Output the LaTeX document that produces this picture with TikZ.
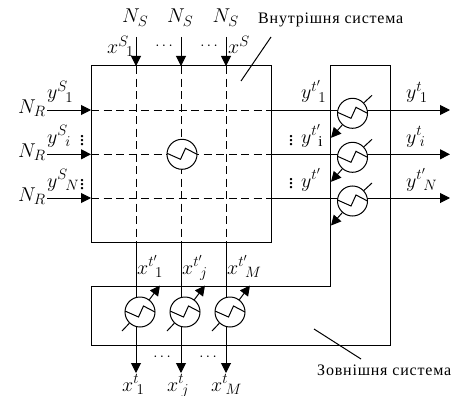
\RequirePackage{fix-cm}
\documentclass[tikz,border=0pt]{standalone}
\usepackage{fontspec}
\setmainfont{Liberation Serif}
\usetikzlibrary{arrows.meta,calc}
\DeclareMathSizes{20}{20}{15}{11}
\tikzset{
  ln/.style={line width=1pt,black},
  dsh/.style={ln,dash pattern=on 8pt off 4.5pt},
  arr/.style={ln,-{Triangle[length=10pt,width=10pt]}},
  hx/.style={circle,draw,line width=1pt,minimum size=30pt,inner sep=0pt,fill=white,
    path picture={\draw[line width=1pt] ($(path picture bounding box.center)+(-15pt,1pt)$)--++(13.5pt,-6pt)--++(5pt,11pt)--++(11.5pt,-6pt);}},
  lb/.style={inner sep=0pt,anchor=base west,font=\fontsize{20}{22}\selectfont},
  big/.style={inner sep=0pt,anchor=base west,font=\fontsize{20}{22}\selectfont},
  cy/.style={inner sep=0pt,anchor=base west,font=\fontsize{16}{19}\selectfont\addfontfeatures{LetterSpace=5}},
  dt/.style={inner sep=0pt,font=\fontsize{15}{15}\selectfont},
  dv/.style={inner sep=0pt,font=\fontsize{20}{20}\selectfont}
}
\newcommand{\sv}[3]{$#1^{#2}{}_{\!#3}$}
\begin{document}
\begin{tikzpicture}[x=1pt,y=-1pt]
\useasboundingbox (0,0) rectangle (463,396);
% boxes
\coordinate (ia) at (91,66); \coordinate (ib) at (271,66);
\coordinate (ic) at (271,242); \coordinate (id) at (91,242);
\draw[ln] (ia)--(ib)--(ic)--(id)--cycle;
\coordinate (oa) at (91,286); \coordinate (ob) at (330.5,286); \coordinate (oc) at (330.5,66);
\coordinate (od) at (390.5,66); \coordinate (oe) at (390.5,345); \coordinate (of) at (91,345);
\draw[ln] (oa)--(ob)--(oc)--(od)--(oe)--(of)--cycle;
% coordinates
\foreach \n/\x in {1/136,2/181,3/226}{
  \coordinate (t\n) at (\x,37); \coordinate (u\n) at (\x,66); \coordinate (v\n) at (\x,242); \coordinate (w\n) at (\x,373);
  \draw[arr] (t\n)--(u\n);
  \draw[dsh] (u\n)--(v\n);
  \draw[arr] (v\n)--(w\n);
}
\foreach \n/\y in {1/110,2/154.3,3/198}{
  \coordinate (l\n) at (47,\y); \coordinate (m\n) at (91,\y); \coordinate (r\n) at (271,\y); \coordinate (e\n) at (450,\y);
  \draw[arr] (l\n)--(m\n);
  \draw[dsh] (m\n)--(r\n);
  \draw[arr] (r\n)--(e\n);
}
% exchangers
\node[hx] (c) at (182,154.3) {};
\foreach \n/\y in {1/113.3,2/157.3,3/201}{
  \node[hx] (R\n) at (352.5,\y) {};
  \coordinate (Rt\n) at (372,{\y-18});
  \coordinate (Ra\n) at (331,{\y+24.5});
  \draw[ln] (R\n)--(Rt\n);
  \draw[arr] (R\n)--(Ra\n);
}
\foreach \n/\x in {1/140,2/185,3/230}{
  \node[hx] (B\n) at (\x,312) {};
  \coordinate (Bt\n) at (\x-18,331);
  \coordinate (Ba\n) at (\x+20,285.5);
  \draw[ln] (B\n)--(Bt\n);
  \draw[arr] (B\n)--(Ba\n);
}
% leaders
\coordinate (la) at (271,37); \coordinate (lb) at (241,81);
\draw[ln] (la)--(lb);
\coordinate (lc) at (314,329); \coordinate (ld) at (361,359);
\draw[ln] (lc)--(ld);
% titles
\node[cy] (ti) at (258,24) {Внутрішня система};
\node[cy] (to) at (317,375) {Зовнішня система};
% N labels
\node[big] (n1) at (122,23) {$N_S$};
\node[big] (n2) at (167,23) {$N_S$};
\node[big] (n3) at (212.5,23) {$N_S$};
\node[big] (n4) at (18,113) {$N_R$};
\node[big] (n5) at (18,157) {$N_R$};
\node[big] (n6) at (18,201) {$N_R$};
% left/top labels
\node[lb] (xs1) at (107,54) {\sv{x}{S}{1}};
\node[lb] (xs3) at (228,54) {$x^S$};
\node[lb] (ys1) at (47,99) {\sv{y}{S}{1}};
\node[lb] (ysi) at (47,143) {\sv{y}{S}{i}};
\node[lb] (ysn) at (47,187) {\sv{y}{S}{N}};
% dots
\node[dt] (d1) at (164,46) {$\cdots$};
\node[dt] (d2) at (209,46) {$\cdots$};
\node[dv] (d3) at (82,138) {$\vdots$};
\node[dv] (d4) at (82,182) {$\vdots$};
\node[dv] (d5) at (291,138) {$\vdots$};
\node[dv] (d6) at (291,181) {$\vdots$};
\node[dt] (d7) at (162,357) {$\cdots$};
\node[dt] (d8) at (208,357) {$\cdots$};
% right labels
\node[lb] (a1) at (301,99) {\sv{y}{t'}{1}};
\node[lb] (a2) at (301,143) {\sv{y}{t'}{\mathrm{i}}};
\node[lb] (a3) at (301,187) {$y^{t'}$};
\node[lb] (b1) at (406,99) {\sv{y}{t}{1}};
\node[lb] (b2) at (406,143) {\sv{y}{t}{i}};
\node[lb] (b3) at (406,187) {\sv{y}{t'}{N}};
% bottom labels
\node[lb] (c1) at (137,274) {\sv{x}{t'}{1}};
\node[lb] (c2) at (182,274) {\sv{x}{t'}{j}};
\node[lb] (c3) at (227,274) {\sv{x}{t'}{M}};
\node[lb] (f1) at (122,391) {\sv{x}{t}{1}};
\node[lb] (f2) at (167,391) {\sv{x}{t}{j}};
\node[lb] (f3) at (211,391) {\sv{x}{t}{M}};
\end{tikzpicture}
\end{document}
